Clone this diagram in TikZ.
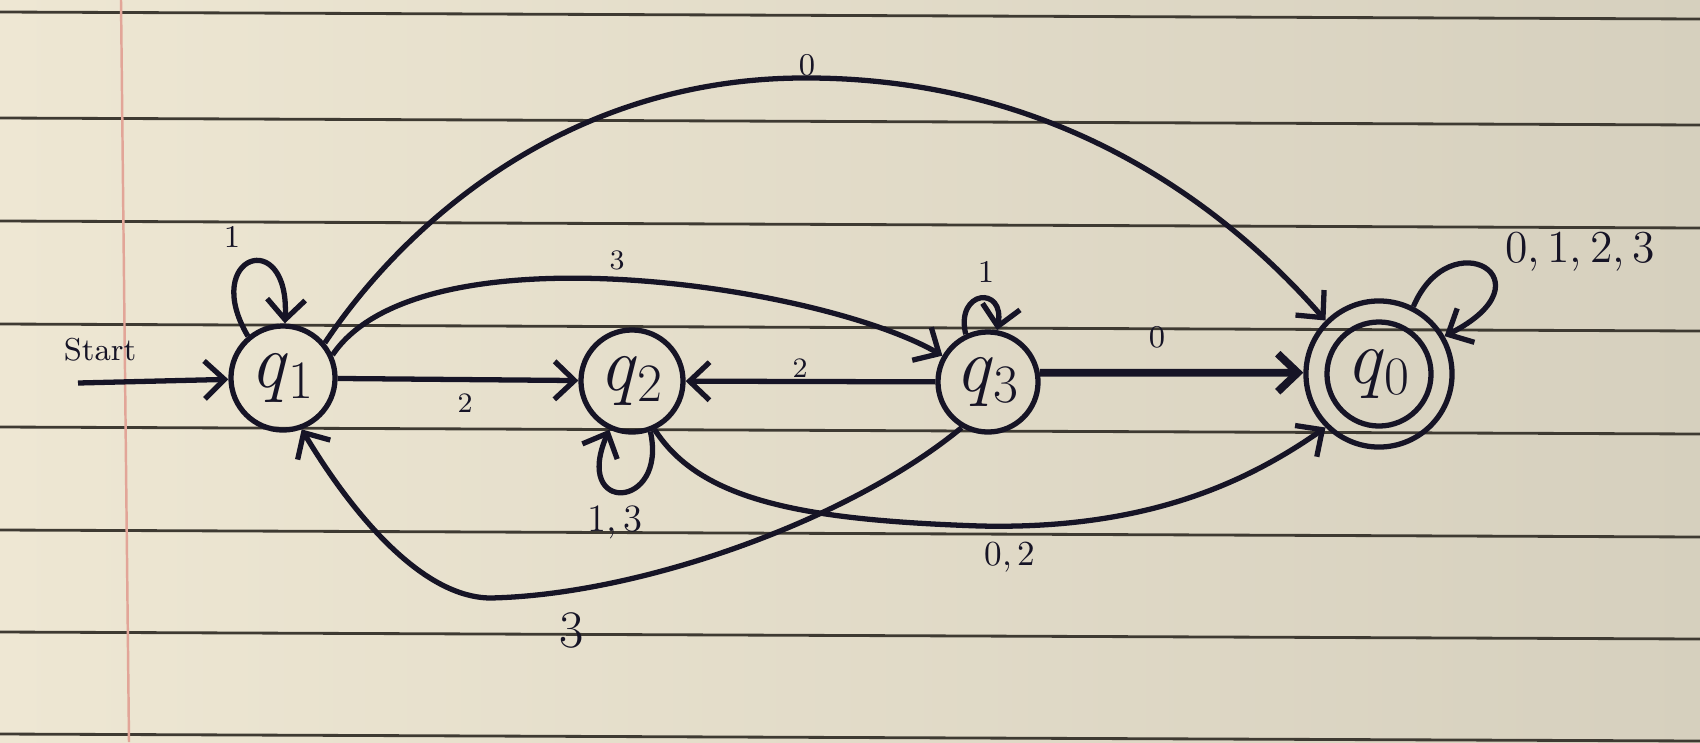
\documentclass[tikz,border=0pt]{standalone}
\usepackage{amsmath}
\usepackage{xcolor}
\usepackage{tikz}
\usetikzlibrary{shapes, arrows.meta, positioning, calc}

\definecolor{ink}{RGB}{22,20,38}
\definecolor{paperL}{RGB}{238,231,211}
\definecolor{paperR}{RGB}{214,208,190}
\definecolor{rulecol}{RGB}{62,58,50}
\definecolor{margincol}{RGB}{226,165,152}

\newcommand{\qst}[1]{\textit{q}\textsubscript{#1}}

\begin{document}
\begin{tikzpicture}[x=0.01cm, y=-0.01cm,
  >={Straight Barb[length=2mm,width=3.8mm]},
  dfanode/.style={circle, draw=ink, line width=1.5pt, minimum size=10.4mm,
    inner sep=0pt, text=ink, font=\fontsize{22}{24}\selectfont},
  trans/.style={->, draw=ink, line width=1.5pt},
  lbl/.style={text=ink, inner sep=1pt, font=\fontsize{#1}{#1}\selectfont},
  lbl/.default=9,
  ruled/.style={rulecol, line width=0.8pt}]
  \useasboundingbox (0,0) rectangle (1700,742);

  % Paper
  \shade[left color=paperL, right color=paperR] (0,0) rectangle (1700,742);
  \foreach \y in {12,118,221,324,427,530,632,734}
    \draw[ruled] (0,\y) -- (1700,\y+7);
  \draw[margincol, line width=0.7pt] (121,0) -- (129,742);

  % States
  \node[dfanode] (q1) at (283,378) {\qst{1}};
  \node[dfanode, minimum size=10.2mm] (q2) at (632,381) {\qst{2}};
  \node[dfanode, minimum size=10mm] (q3) at (988,382) {\qst{3}};
  \node[dfanode, minimum size=14.6mm] (q0) at (1379,374) {\qst{0}};
  \draw[ink, line width=1.5pt] (q0.center) circle (5.2mm);

  % Start arrow
  \coordinate (s0) at (78,383);
  \node[lbl=9] (startlbl) at (100,350) {Start};
  \draw[trans] (s0) -- (q1);

  % Transitions out of q1
  \draw[trans] (q1.130) .. controls (200,255) and (290,225) .. (q1.88);
  \draw[trans] (q1) -- (q2);
  \draw[trans] (q1.25) .. controls (420,225) and (820,285) .. (q3.150);
  \draw[trans] (q1.40) .. controls (400,230) and (560,80) .. (800,78)
    .. controls (1050,76) and (1220,200) .. (q0.135);

  % Transitions out of q2
  \draw[trans] (q2.290) .. controls (668,510) and (572,515) .. (q2.245);
  \draw[trans] (q2.295) .. controls (700,500) and (800,520) .. (980,526)
    .. controls (1150,530) and (1250,480) .. (q0.225);

  % Transitions out of q3
  \draw[trans] (q3.115) .. controls (955,290) and (1005,285) .. (q3.80);
  \draw[trans] (q3) -- (q2);
  \draw[trans, line width=2.2pt] (q3.10) -- (q0.179);
  \draw[trans] (q3.240) .. controls (850,520) and (640,595) .. (490,598)
    .. controls (420,597) and (350,510) .. (q1.290);

  % Accepting loop
  \draw[trans] (q0.63) .. controls (1450,220) and (1555,280) .. (q0.30);

  % Labels
  \node[lbl=9] (t11) at (232,237) {1};
  \node[lbl=8] (t12) at (465,403) {2};
  \node[lbl=8] (t13) at (617,260) {3};
  \node[lbl=9] (t10) at (807,65) {0};
  \node[lbl=9] (t33) at (986,272) {1};
  \node[lbl=8] (t32) at (800,368) {2};
  \node[lbl=9] (t30) at (1157,337) {0};
  \node[lbl=11] (t22) at (615,522) {1,\,3};
  \node[lbl=15] (t31) at (572,630) {3};
  \node[lbl=10] (t20) at (1010,557) {0,\,2};
  \node[lbl=13] (t00) at (1580,252) {0,\,1,\,2,\,3};
\end{tikzpicture}
\end{document}
